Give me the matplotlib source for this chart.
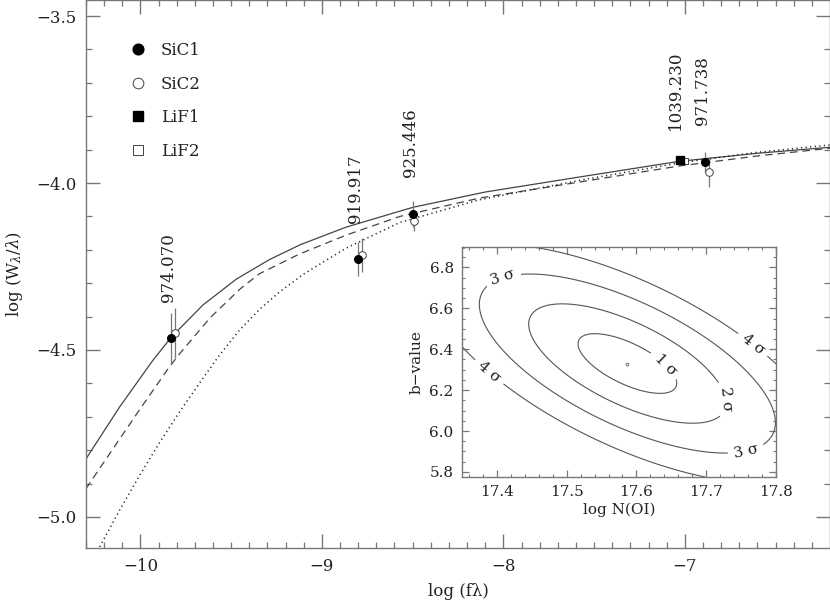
import numpy as np
import matplotlib
matplotlib.use('Agg')
import matplotlib.pyplot as plt

plt.rcParams['font.family'] = ['DejaVu Serif']
plt.rcParams['mathtext.fontset'] = 'dejavuserif'

# curves of growth: log(f lambda) vs log(W/lambda)
solid_x = [-10.30, -10.114, -9.93, -9.829, -9.655, -9.472, -9.288, -9.12, -8.866, -8.50, -8.10, -7.58, -7.03, -6.60, -6.20]
solid_y = [-4.826, -4.670, -4.530, -4.461, -4.365, -4.288, -4.229, -4.185, -4.132, -4.073, -4.027, -3.982, -3.935, -3.911, -3.893]
dash_x = [-10.30, -10.15, -10.00, -9.85, -9.79, -9.615, -9.45, -9.345, -9.125, -8.866, -8.57, -8.13, -7.58, -7.03, -6.60, -6.20]
dash_y = [-4.915, -4.795, -4.675, -4.558, -4.515, -4.403, -4.317, -4.272, -4.213, -4.156, -4.100, -4.045, -3.997, -3.949, -3.919, -3.896]
dot_x = [-10.26, -10.224, -10.114, -10.004, -9.894, -9.784, -9.674, -9.564, -9.453, -9.343, -9.233, -9.096, -8.866, -8.57, -8.13, -7.58, -7.03, -6.60, -6.20]
dot_y = [-5.126, -5.089, -4.979, -4.875, -4.777, -4.685, -4.599, -4.515, -4.440, -4.378, -4.326, -4.271, -4.195, -4.118, -4.050, -3.992, -3.940, -3.908, -3.886]

# measurements per channel
sic1_x = [-9.829, -8.800, -8.497, -6.890]
sic1_y = [-4.464, -4.228, -4.093, -3.937]
sic1_err = [0.075, 0.05, 0.04, 0.03]
sic2_x = [-9.810, -8.780, -8.490, -6.868]
sic2_y = [-4.449, -4.216, -4.114, -3.967]
sic2_err = [0.075, 0.05, 0.03, 0.045]
lif1_x = [-7.028]
lif1_y = [-3.931]
lif1_err = [0.01]
lif2_x = [-7.000]
lif2_y = [-3.934]
lif2_err = [0.01]

# line labels (wavelengths)
line_names = ['974.070', '919.917', '925.446', '1039.230', '971.738']
label_x = [-9.846, -8.817, -8.514, -7.05, -6.90]
label_y = [-4.356, -4.120, -3.982, -3.841, -3.826]

# inset: chi2 ellipse of the fit
best_N = 17.587
best_b = 6.33
cov_NN = 0.0050
cov_bb = 0.0213
cov_Nb = -0.00681
sigma_levels = [1, 2, 3, 4]
clabel_pos = [(17.638, 6.312), (17.72, 6.15), (17.407, 6.77), (17.756, 5.92),
              (17.387, 6.28), (17.763, 6.405)]

fig = plt.figure(figsize=(8.3, 6.06), dpi=100)
ax = fig.add_axes([86/830, 1-548/606, 744/830, 548/606])

ax.plot(solid_x, solid_y, '-', color='#444', lw=0.9)
ax.plot(dash_x, dash_y, color='#444', lw=0.9, dashes=(6, 4))
ax.plot(dot_x, dot_y, color='#222', lw=1.1, dashes=(0.8, 2.2))

ebar = dict(fmt='none', ecolor='#777', elinewidth=0.9, capsize=0)
ax.errorbar(sic2_x, sic2_y, yerr=sic2_err, **ebar)
ax.errorbar(sic1_x, sic1_y, yerr=sic1_err, **ebar)
ax.errorbar(lif2_x, lif2_y, yerr=lif2_err, **ebar)
ax.errorbar(lif1_x, lif1_y, yerr=lif1_err, **ebar)
ax.plot(sic2_x, sic2_y, 'o', mfc='white', mec='#444', mew=0.7, ms=5.5, ls='none', label='SiC2')
ax.plot(sic1_x, sic1_y, 'o', color='black', ms=5.5, ls='none', label='SiC1')
ax.plot(lif2_x, lif2_y, 's', mfc='white', mec='#444', mew=0.7, ms=5, ls='none', label='LiF2')
ax.plot(lif1_x, lif1_y, 's', color='black', ms=5.5, ls='none', label='LiF1')

for name, lx, ly in zip(line_names, label_x, label_y):
    ax.text(lx, ly, name, rotation=90, ha='center', va='bottom', fontsize=12, color='#222')

h, l = ax.get_legend_handles_labels()
order = [1, 0, 3, 2]
leg = ax.legend([h[i] for i in order], [l[i] for i in order], loc='upper left',
                bbox_to_anchor=(0.039, 0.951), frameon=False, fontsize=12,
                markerscale=1.4, handlelength=1.0, handletextpad=0.85, labelspacing=1.0)
for t in leg.get_texts():
    t.set_color('#222')

ax.set_xlim(-10.3, -6.2)
ax.set_ylim(-5.093, -3.452)
ax.set_xticks([-10, -9, -8, -7])
ax.set_xticklabels(['\u221210', '\u22129', '\u22128', '\u22127'])
ax.set_xticks(np.arange(-10.3, -6.2, 0.1), minor=True)
ax.set_yticks([-5.0, -4.5, -4.0, -3.5])
ax.set_yticklabels(['\u22125.0', '\u22124.5', '\u22124.0', '\u22123.5'])
ax.set_yticks(np.arange(-5.0, -3.45, 0.1), minor=True)
ax.tick_params(which='both', direction='in', top=True, right=True, color='#777', labelsize=12, labelcolor='#222')
ax.tick_params(which='major', length=10, width=1.0, pad=7)
ax.tick_params(which='minor', length=4.5, width=0.9)
for s in ax.spines.values():
    s.set_color('#777')
    s.set_linewidth(1.0)
ax.set_xlabel('log (f\u03bb)', fontsize=12, color='#222', labelpad=6)
ax.set_ylabel(r'log (W$_\lambda$/$\lambda$)', fontsize=12, color='#222', labelpad=8)

# inset
ins = fig.add_axes([462/830, 1-477/606, 314/830, 230/606])
gN = np.linspace(17.35, 17.8, 400)
gb = np.linspace(5.775, 6.9, 400)
NN, BB = np.meshgrid(gN, gb)
det = cov_NN * cov_bb - cov_Nb ** 2
dN = NN - best_N
db = BB - best_b
chi = (cov_bb * dN ** 2 - 2 * cov_Nb * dN * db + cov_NN * db ** 2) / det
nsig = np.sqrt(chi)
cs = ins.contour(NN, BB, nsig, levels=sigma_levels, colors='#555', linewidths=0.8)
ins.clabel(cs, fmt={lv: f'{lv} \u03c3' for lv in sigma_levels}, manual=clabel_pos,
           fontsize=11, inline=True, inline_spacing=6, colors='#222')
ins.plot([best_N], [best_b], 'o', mfc='white', mec='#555', ms=2, mew=0.6)
ins.set_xlim(17.35, 17.8)
ins.set_ylim(5.775, 6.9)
ins.set_xticks([17.4, 17.5, 17.6, 17.7, 17.8])
ins.set_xticks(np.arange(17.36, 17.8, 0.02), minor=True)
ins.set_yticks([5.8, 6.0, 6.2, 6.4, 6.6, 6.8])
ins.set_yticks(np.arange(5.8, 6.9, 0.05), minor=True)
ins.tick_params(which='both', direction='in', top=True, right=True, color='#777', labelsize=11, labelcolor='#222')
ins.tick_params(which='major', length=5, width=0.9, pad=6)
ins.tick_params(which='minor', length=2.5, width=0.8)
for s in ins.spines.values():
    s.set_color('#777')
    s.set_linewidth(1.0)
ins.set_xlabel('log N(OI)', fontsize=11, color='#222', labelpad=2)
ins.set_ylabel('b\u2212value', fontsize=11, color='#222', labelpad=4)

fig.savefig('out.png', dpi=100)
